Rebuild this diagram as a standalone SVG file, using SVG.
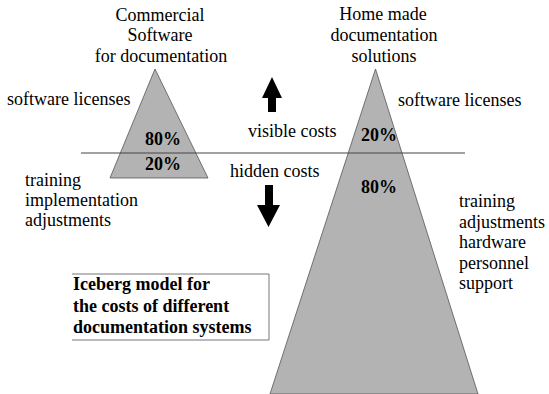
<svg xmlns="http://www.w3.org/2000/svg" width="549" height="394" viewBox="0 0 549 394">
  <style>
    .b { font-weight: bold; }
    .mid { text-anchor: middle; }
    .berg { fill: #b3b3b3; stroke: #555; stroke-width: 0.8; }
    .water { stroke: #444; stroke-width: 1; fill: none; }
    .arrow { fill: #000; }
  </style>
  <rect width="549" height="394" fill="#fff"/>

  <!-- commercial software iceberg -->
  <g id="commercial">
    <polygon class="berg" points="155,69 110,178 208,178"/>
    <text font-family="Liberation Serif" font-size="18" class="mid" x="160" y="21">Commercial</text>
    <text font-family="Liberation Serif" font-size="18" class="mid" x="160" y="41">Software</text>
    <text font-family="Liberation Serif" font-size="18" class="mid" x="161" y="62">for documentation</text>
    <text font-family="Liberation Serif" font-size="18" x="7" y="105">software licenses</text>
    <text font-family="Liberation Serif" font-size="18" class="b" x="145" y="145">80%</text>
    <text font-family="Liberation Serif" font-size="18" class="b" x="145" y="170">20%</text>
    <text font-family="Liberation Serif" font-size="18" x="25" y="186">training</text>
    <text font-family="Liberation Serif" font-size="18" x="25" y="206">implementation</text>
    <text font-family="Liberation Serif" font-size="18" x="25" y="226">adjustments</text>
  </g>

  <!-- home made solutions iceberg -->
  <g id="homemade">
    <polygon class="berg" points="375.5,69 270,394 478,394"/>
    <text font-family="Liberation Serif" font-size="18" class="mid" x="383" y="20">Home made</text>
    <text font-family="Liberation Serif" font-size="18" class="mid" x="384" y="41">documentation</text>
    <text font-family="Liberation Serif" font-size="18" class="mid" x="384" y="62">solutions</text>
    <text font-family="Liberation Serif" font-size="18" x="398" y="106">software licenses</text>
    <text font-family="Liberation Serif" font-size="18" class="b" x="361" y="141">20%</text>
    <text font-family="Liberation Serif" font-size="18" class="b" x="361" y="193">80%</text>
    <text font-family="Liberation Serif" font-size="18" x="459" y="207">training</text>
    <text font-family="Liberation Serif" font-size="18" x="459" y="228">adjustments</text>
    <text font-family="Liberation Serif" font-size="18" x="459" y="248">hardware</text>
    <text font-family="Liberation Serif" font-size="18" x="459" y="269">personnel</text>
    <text font-family="Liberation Serif" font-size="18" x="459" y="289">support</text>
  </g>

  <!-- waterline and cost arrows -->
  <g id="connectors">
    <line class="water" x1="81" y1="153" x2="465" y2="153"/>
    <polygon class="arrow" points="272,77 282,98 276,98 276,112 268,112 268,98 262,98"/>
    <polygon class="arrow" points="265,185 273,185 273,205 280,205 268.5,227 257,205 265,205"/>
  </g>

  <g id="costs">
    <text font-family="Liberation Serif" font-size="18" x="248" y="137">visible costs</text>
    <text font-family="Liberation Serif" font-size="18" x="230" y="177">hidden costs</text>
  </g>

  <!-- caption box -->
  <g id="caption">
    <path d="M72,274 H269 V340 H72" fill="none" stroke="#777" stroke-width="1"/>
    <text font-family="Liberation Serif" font-size="18" class="b" x="73" y="290">Iceberg model for</text>
    <text font-family="Liberation Serif" font-size="18" class="b" x="73" y="312">the costs of different</text>
    <text font-family="Liberation Serif" font-size="18" class="b" x="73" y="333">documentation systems</text>
  </g>
</svg>
